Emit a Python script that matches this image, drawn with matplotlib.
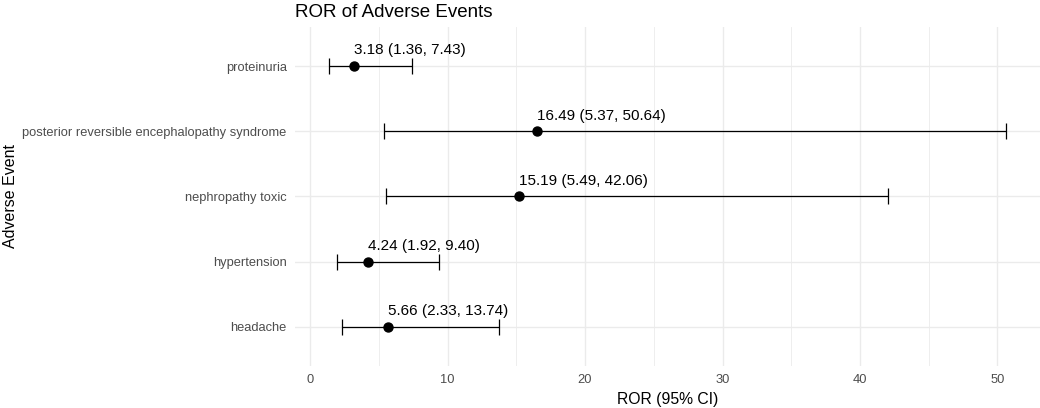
import numpy as np
import matplotlib.pyplot as plt

events = ["proteinuria", "posterior reversible encephalopathy syndrome",
          "nephropathy toxic", "hypertension", "headache"]
ror = [3.18, 16.49, 15.19, 4.24, 5.66]
lower = [1.36, 5.37, 5.49, 1.92, 2.33]
upper = [7.43, 50.64, 42.06, 9.40, 13.74]

plt.rcParams['font.family'] = ['Liberation Sans', 'DejaVu Sans']

fig = plt.figure(figsize=(10.4, 4.08), dpi=100)
ax = fig.add_axes([0.2837, 0.103, 0.7163, 0.831])

ypos = np.arange(len(events))[::-1] + 1  # proteinuria at top
ror = np.array(ror)
lower = np.array(lower)
upper = np.array(upper)

ax.errorbar(ror, ypos, xerr=[ror - lower, upper - ror], fmt='none',
            ecolor='black', elinewidth=0.9, capsize=6, capthick=0.9, zorder=3)
ax.scatter(ror, ypos, s=42, color='black', zorder=4)

# labels start at the point, just above it
for x, y, lo, hi in zip(ror, ypos, lower, upper):
    ax.text(x, y + 0.18, f"{x:.2f} ({lo:.2f}, {hi:.2f})", ha='left', va='baseline',
            fontsize=11, color='black')

ax.set_xlim(-1.1, 53.1)
ax.set_ylim(0.4, 5.6)
ax.set_xticks([0, 10, 20, 30, 40, 50])
ax.set_xticks([5, 15, 25, 35, 45], minor=True)
ax.set_yticks(ypos)
ax.set_yticklabels(events)

ax.grid(True, which='major', color='#ebebeb', linewidth=1.0)
ax.grid(True, which='minor', axis='x', color='#ebebeb', linewidth=0.6)
ax.set_axisbelow(True)
for s in ax.spines.values():
    s.set_visible(False)
ax.tick_params(which='both', length=0, labelsize=9.3, labelcolor='#4d4d4d', pad=6)

ax.set_xlabel("ROR (95% CI)", fontsize=11.3, labelpad=4)
ax.set_ylabel("Adverse Event", fontsize=11.5, labelpad=3)
ax.set_title("ROR of Adverse Events", fontsize=13.5, loc='left', pad=7)

fig.savefig("out.png", dpi=100)
